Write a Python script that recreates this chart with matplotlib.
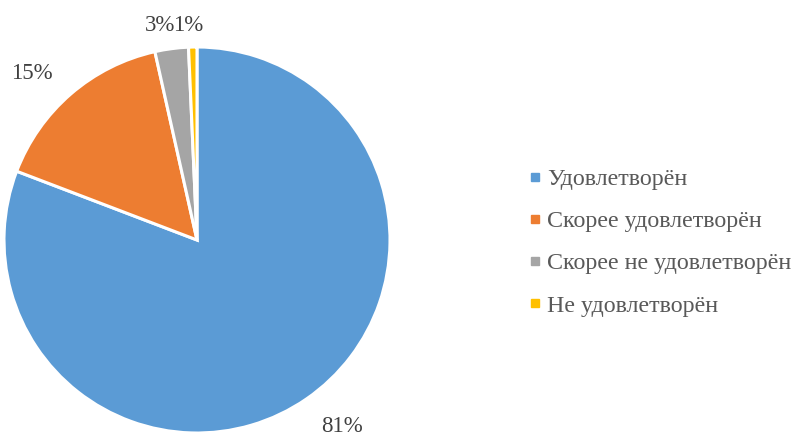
import matplotlib
matplotlib.use("Agg")
import matplotlib.pyplot as plt
from matplotlib.lines import Line2D

categories = ["Удовлетворён", "Скорее удовлетворён", "Скорее не удовлетворён", "Не удовлетворён"]
values = [80.8, 15.7, 2.8, 0.7]
pct_labels = ["81%", "15%", "3%", "1%"]
colors = ["#5B9BD5", "#ED7D31", "#A5A5A5", "#FFC000"]

plt.rcParams['font.family'] = ['Liberation Serif', 'DejaVu Serif']

W, H = 796, 436
fig = plt.figure(figsize=(W / 100, H / 100), dpi=100)
cx, cy, r = 197, 240, 193
ax = fig.add_axes([(cx - r) / W, (H - cy - r) / H, 2 * r / W, 2 * r / H])
wedges, _ = ax.pie(values, colors=colors, startangle=90, counterclock=False,
                   radius=1, wedgeprops=dict(edgecolor="white", linewidth=2.2))
ax.set_xlim(-1, 1)
ax.set_ylim(-1, 1)
ax.set_aspect("equal")
ax.axis("off")

label_px = [(342, 426), (32, 73), (160, 25), (188, 25)]
for lab, (px, py) in zip(pct_labels, label_px):
    ax.text((px - cx) / r, (cy - py) / r, lab, ha="center", va="center",
            fontsize=16.5, color="#404040", clip_on=False)

handles = [Line2D([], [], linestyle="none", marker="s", markersize=5.5,
                  markerfacecolor=c, markeredgecolor=c) for c in colors]
leg = fig.legend(handles, categories, loc="center left",
                 bbox_to_anchor=(507 / W, (H - 242.5) / H), frameon=False,
                 fontsize=17.3, labelspacing=0.845, handlelength=0.55,
                 handletextpad=0.22, labelcolor="#595959")

fig.savefig("out.png", dpi=100)
